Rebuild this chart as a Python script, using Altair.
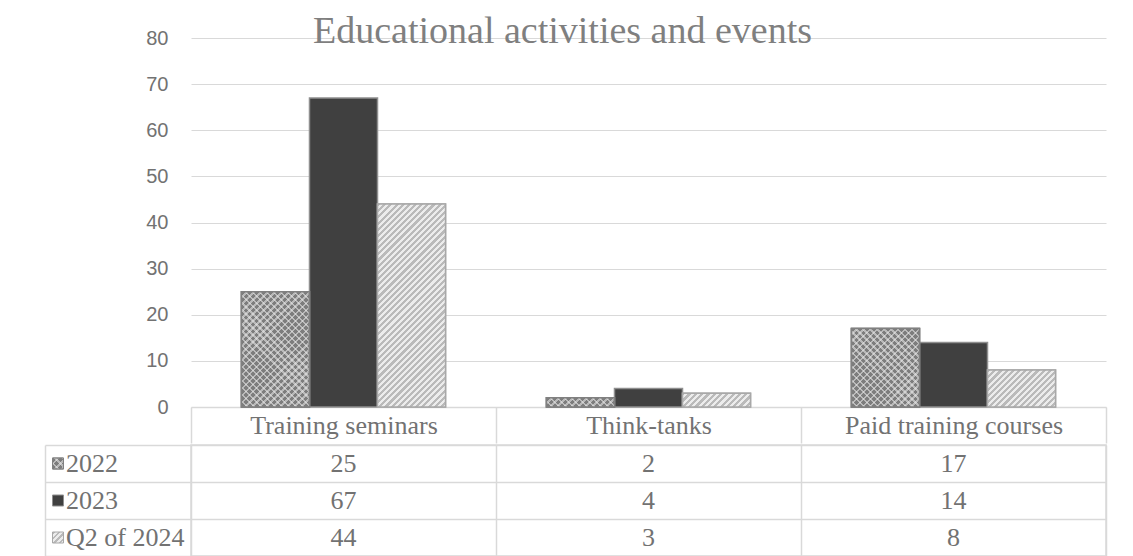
import math
import altair as alt
import pandas as pd

# ---------------- data ----------------
categories = ["Training seminars", "Think-tanks", "Paid training courses"]
series = ["2022", "2023", "Q2 of 2024"]
values_2022 = [25, 2, 17]
values_2023 = [67, 4, 14]
values_2024 = [44, 3, 8]
y_ticks = [0, 10, 20, 30, 40, 50, 60, 70, 80]
title_text = "Educational activities and events"

rows = []
for s, vals in zip(series, [values_2022, values_2023, values_2024]):
    for c, v in zip(categories, vals):
        rows.append({"category": c, "series": s, "value": v})
df = pd.DataFrame(rows)
lab_df = pd.DataFrame({"series": series})

# ---------------- styling ----------------
PLOT_W, PLOT_H = 915, 369
LABEL_COL_W = 146
Y_AXIS_EXT = 50
HEADER_H = 36
Y_MAX = 80
OFF_PAD = 0.742
BAR_W = PLOT_W / len(categories) / (len(series) + 2 * OFF_PAD)
PX_PER_UNIT = PLOT_H / Y_MAX
LINE = "#d9d9d9"
TEXT = "#727272"
SERIF = "Liberation Serif"
SANS = "Liberation Sans"

solid_fill = ["#8f8f8f", "#404040", "#cfcfcf"]
stroke_col = ["#808080", "#8f8f8f", "#a8a8a8"]


def stripes(w, h, period, c1, c2, frac=0.5, direction="/"):
    n = max(1, round((w + h) / (math.sqrt(2) * period)))
    k = (w + h) / (w * w + h * h)
    if direction == "/":
        x1, y1, x2, y2 = 0, 0, k * w, k * h
    else:
        x1, y1, x2, y2 = 0, 1, k * w, 1 - k * h
    stops = []
    for i in range(n):
        a = i / n
        b = (i + frac) / n
        c = (i + 1) / n
        stops += [
            {"offset": a, "color": c1},
            {"offset": b, "color": c1},
            {"offset": b, "color": c2},
            {"offset": c, "color": c2},
        ]
    return {"gradient": "linear", "x1": x1, "y1": y1, "x2": x2, "y2": y2, "stops": stops}


def pattern_layers(s, w, h):
    """gradient fills imitating the hatch patterns of the series"""
    if s == "2022":
        return [
            stripes(w, h, 5.0, "#7d7d7d", "#b8b8b8", 0.62, "/"),
            stripes(w, h, 5.0, "rgba(0,0,0,0)", "rgba(235,235,235,0.55)", 0.68, "\\"),
        ]
    if s == "Q2 of 2024":
        return [stripes(w, h, 4.4, "#bababa", "#ececec", 0.5, "/")]
    return []


# ---------------- top chart (columns) ----------------
x_top = alt.X(
    "category:N",
    sort=categories,
    scale=alt.Scale(domain=categories, paddingInner=0, paddingOuter=0),
    axis=alt.Axis(
        title=None, domain=True, domainColor=LINE, domainWidth=1.5,
        ticks=True, tickBand="extent", tickSize=HEADER_H, tickColor=LINE, tickWidth=1.5,
        labelFont=SERIF, labelFontSize=26, labelColor=TEXT, labelAngle=0,
        labelBaseline="middle", labelPadding=-HEADER_H / 2, labelLimit=400,
        grid=False, minExtent=HEADER_H, maxExtent=HEADER_H,
    ),
)
xoff = alt.XOffset(
    "series:N", sort=series,
    scale=alt.Scale(domain=series, paddingInner=0, paddingOuter=OFF_PAD),
)
y_top = alt.Y(
    "value:Q",
    scale=alt.Scale(domain=[0, Y_MAX], nice=False, zero=True),
    axis=alt.Axis(
        title=None, values=y_ticks, grid=True, gridColor=LINE, gridWidth=1.2,
        domain=False, ticks=False, labelFont=SANS, labelFontSize=20,
        labelColor=TEXT, labelPadding=23, minExtent=Y_AXIS_EXT, maxExtent=Y_AXIS_EXT,
    ),
)

base = alt.Chart(df).encode(x=x_top, xOffset=xoff, y=y_top)

layers = [
    base.mark_bar(strokeWidth=1.5).encode(
        color=alt.Color("series:N", scale=alt.Scale(domain=series, range=solid_fill), legend=None),
        stroke=alt.Stroke("series:N", scale=alt.Scale(domain=series, range=stroke_col), legend=None),
    )
]
for si, (s, vals) in enumerate(zip(series, [values_2022, values_2023, values_2024])):
    for c, v in zip(categories, vals):
        h = v * PX_PER_UNIT
        for grad in pattern_layers(s, BAR_W, h):
            layers.append(
                base.transform_filter(
                    (alt.datum.series == s) & (alt.datum.category == c)
                ).mark_bar(fill=grad, stroke=stroke_col[si], strokeWidth=1.5)
            )

top = alt.layer(*layers).properties(
    width=PLOT_W,
    height=PLOT_H,
    view=alt.ViewBackground(strokeWidth=0),
    title=alt.TitleParams(
        text=title_text, font=SERIF, fontSize=38, fontWeight="normal",
        color="#7f7f7f", anchor="middle", frame="group", dx=-86,
        offset=-53, baseline="alphabetic",
    ),
)

spacer = alt.Chart(pd.DataFrame({"a": [0]})).mark_point(opacity=0).encode(
    x=alt.value(0), y=alt.value(0)
).properties(
    width=LABEL_COL_W - Y_AXIS_EXT, height=PLOT_H,
    view=alt.ViewBackground(strokeWidth=0),
)

# ---------------- data table ----------------
grid_axis = alt.Axis(
    title=None, labels=False, ticks=False, domain=False, grid=True,
    tickBand="extent", gridColor=LINE, gridWidth=1.5,
)
y_tab = alt.Y("series:N", sort=series,
              scale=alt.Scale(domain=series, paddingInner=0, paddingOuter=0),
              axis=grid_axis)
y_lab = alt.Y("series:N", sort=series,
              scale=alt.Scale(domain=series, paddingInner=0, paddingOuter=0),
              axis=alt.Axis(title=None, labels=False, ticks=False, domain=True,
                            domainColor=LINE, domainWidth=1.5, grid=True,
                            tickBand="extent", gridColor=LINE, gridWidth=1.5))

lab_base = alt.Chart(lab_df).encode(y=y_lab)
lab_layers = [
    lab_base.mark_text(align="left", baseline="middle", font=SERIF,
                       fontSize=26, color=TEXT).encode(x=alt.value(21), text="series:N")
]
KEY = 11
for si, s in enumerate(series):
    grads = pattern_layers(s, KEY, KEY)
    if not grads:
        grads = [solid_fill[si]]
    for g in grads:
        lab_layers.append(
            lab_base.transform_filter(alt.datum.series == s).mark_point(
                shape="square", filled=True, size=KEY * KEY, fill=g,
                stroke=stroke_col[si], strokeWidth=1, opacity=1,
            ).encode(x=alt.value(13))
        )
labels = alt.layer(*lab_layers).properties(
    width=LABEL_COL_W, height=111,
    view=alt.ViewBackground(strokeWidth=0),
)

table = alt.Chart(df).mark_text(
    font=SERIF, fontSize=26, color=TEXT, baseline="middle", align="center"
).encode(
    x=alt.X("category:N", sort=categories,
            scale=alt.Scale(domain=categories, paddingInner=0, paddingOuter=0),
            axis=grid_axis),
    y=y_tab,
    text="value:Q",
).properties(
    width=PLOT_W, height=111,
    view=alt.ViewBackground(stroke=LINE, strokeWidth=1.5),
)

chart = alt.vconcat(
    alt.hconcat(spacer, top, spacing=0),
    alt.hconcat(labels, table, spacing=-3),
    spacing=0,
).properties(
    padding={"left": 34, "top": 5, "right": 5, "bottom": 0},
    background="white",
)

chart.save("out.html", embed_options={"renderer": "svg", "actions": False})
